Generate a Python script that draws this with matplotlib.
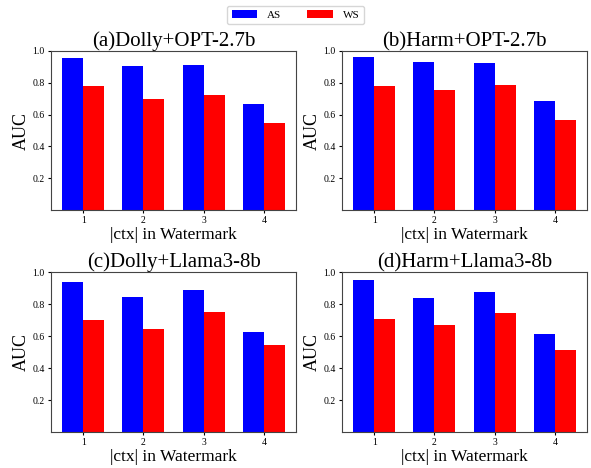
import matplotlib
matplotlib.use("Agg")
import matplotlib.pyplot as plt
import numpy as np

plt.rcParams["font.family"] = ["Liberation Serif", "DejaVu Serif"]

ctx = [1, 2, 3, 4]
titles = ["(a)Dolly+OPT-2.7b", "(b)Harm+OPT-2.7b",
          "(c)Dolly+Llama3-8b", "(d)Harm+Llama3-8b"]

as_a = [0.958, 0.904, 0.910, 0.665]
ws_a = [0.778, 0.697, 0.722, 0.546]
as_b = [0.960, 0.929, 0.923, 0.684]
ws_b = [0.778, 0.753, 0.785, 0.565]
as_c = [0.935, 0.842, 0.885, 0.623]
ws_c = [0.698, 0.642, 0.748, 0.542]
as_d = [0.950, 0.837, 0.875, 0.612]
ws_d = [0.706, 0.668, 0.743, 0.511]

as_vals = [as_a, as_b, as_c, as_d]
ws_vals = [ws_a, ws_b, ws_c, ws_d]


def main():
    fig = plt.figure(figsize=(5.91, 4.68), dpi=100)
    W, H = 591, 468
    boxes = [(51, 51, 245, 159), (342, 51, 245, 159),
             (51, 272, 245, 160), (342, 272, 245, 160)]
    x = np.array(ctx)
    w = 0.35
    for i, (l, t, bw, bh) in enumerate(boxes):
        ax = fig.add_axes([l / W, 1 - (t + bh) / H, bw / W, bh / H])
        ax.bar(x - w / 2, as_vals[i], w, color="blue", label="AS")
        ax.bar(x + w / 2, ws_vals[i], w, color="red", label="WS")
        ax.set_ylim(0, 1.0)
        ax.set_yticks([0.2, 0.4, 0.6, 0.8, 1.0])
        ax.set_xticks(ctx)
        ax.tick_params(labelsize=7, length=2.5, pad=2)
        ax.set_title(titles[i], fontsize=15, pad=2)
        ax.set_ylabel("AUC", fontsize=13, labelpad=2)
        ax.set_xlabel("|ctx| in Watermark", fontsize=12.5, labelpad=1)
        for s in ax.spines.values():
            s.set_edgecolor("#444444")
        if i == 0:
            handles, labels = ax.get_legend_handles_labels()

    fig.legend(handles, labels, loc="upper center", ncol=2,
               bbox_to_anchor=(0.5, 1.0), fontsize=8,
               handlelength=2.3, handletextpad=0.9, columnspacing=2.3)
    fig.savefig("out.png", dpi=100)
    plt.close(fig)


if __name__ == "__main__":
    main()
